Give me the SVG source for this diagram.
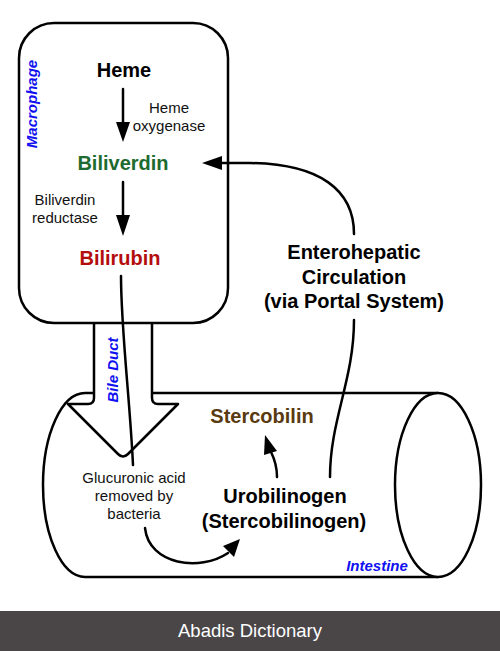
<svg xmlns="http://www.w3.org/2000/svg" width="500" height="651" viewBox="0 0 500 651">
<style>
.ln{fill:none;stroke:#000;stroke-width:2.5;stroke-linecap:round}
.sh{fill:#fff;stroke:#000;stroke-width:2.5;stroke-linejoin:round}
.hd{fill:#000;stroke:none}
text{font-family:"Liberation Sans",Arial,sans-serif;text-anchor:middle}
.big{font-size:20px;font-weight:bold}
.sm{font-size:15px;fill:#111}
.lab{font-size:15px;font-weight:bold;font-style:italic;fill:#1010f0}
</style>
<rect width="500" height="651" fill="#fff"/>
<g id="intestine">
<path class="sh" d="M438,393 L85,393 A42,92 0 0 0 85,577 L438,577"/>
<ellipse class="sh" cx="438" cy="485" rx="43" ry="92"/>
<text class="lab" x="377" y="571">Intestine</text>
</g>
<g id="bile-duct">
<path class="sh" d="M94,320 L94,398 Q94,404 88,404 L68,404 L118,454 Q123,459 128,454 L178,404 L158,404 Q152,404 152,398 L152,320"/>
<text class="lab" transform="translate(118,370) rotate(-90)">Bile Duct</text>
</g>
<g id="macrophage">
<rect class="sh" x="19" y="23" width="209" height="300" rx="35" ry="35"/>
<text class="lab" transform="translate(37,104) rotate(-90)">Macrophage</text>
</g>
<g id="heme"><text class="big" x="124" y="77">Heme</text></g>
<g id="heme-oxygenase"><text class="sm" x="169" y="113">Heme</text><text class="sm" x="169" y="131">oxygenase</text></g>
<g id="biliverdin"><text class="big" x="123" y="170" fill="#1e6b30">Biliverdin</text></g>
<g id="biliverdin-reductase"><text class="sm" x="65" y="205">Biliverdin</text><text class="sm" x="65" y="223">reductase</text></g>
<g id="bilirubin"><text class="big" x="120" y="265" fill="#b30d0d">Bilirubin</text></g>
<g id="enterohepatic"><text class="big" x="354" y="259">Enterohepatic</text><text class="big" x="354" y="284">Circulation</text><text class="big" x="354" y="308">(via Portal System)</text></g>
<g id="stercobilin"><text class="big" x="262" y="423" fill="#5a3a10">Stercobilin</text></g>
<g id="urobilinogen"><text class="big" x="285" y="503">Urobilinogen</text><text class="big" x="284" y="528">(Stercobilinogen)</text></g>
<g id="glucuronic"><text class="sm" x="134" y="483">Glucuronic acid</text><text class="sm" x="134" y="501">removed by</text><text class="sm" x="134" y="519">bacteria</text></g>
<g id="connectors">
<line class="ln" x1="123" y1="89" x2="123" y2="124"/>
<polygon class="hd" points="116,122 130,122 123,142"/>
<line class="ln" x1="123" y1="182" x2="123" y2="217"/>
<polygon class="hd" points="116,215 130,215 123,236"/>
<path class="ln" d="M121,276 C121,330 130,400 133,465"/>
<path class="ln" d="M354,234 C354,190 320,164 250,163 L220,163"/>
<polygon class="hd" points="222,156 222,170 202,163"/>
<path class="ln" d="M354,320 C354,380 330,420 330,477"/>
<path class="ln" d="M277,477 C277,466 274,458 271,452"/>
<polygon class="hd" points="264,455 277,451 265,435"/>
<path class="ln" d="M145,528 C149,565 200,572 228,553"/>
<polygon class="hd" points="223,546 234,557 240,539"/>
</g>
<g id="footer">
<rect x="0" y="611" width="500" height="40" fill="#4a4648"/>
<text x="250" y="637" style="font-size:18.5px;fill:#fff">Abadis Dictionary</text>
</g>
</svg>
